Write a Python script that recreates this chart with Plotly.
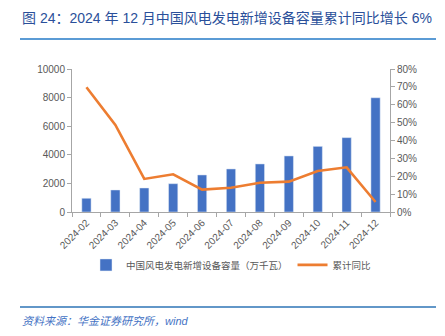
import plotly.graph_objects as go

months = ["2024-02", "2024-03", "2024-04", "2024-05", "2024-06", "2024-07",
          "2024-08", "2024-09", "2024-10", "2024-11", "2024-12"]
capacity = [960, 1540, 1680, 1980, 2590, 3010, 3360, 3920, 4590, 5200, 7990]
yoy = [69.8, 48.7, 18.5, 21.1, 12.5, 13.6, 16.4, 17.0, 22.9, 25.0, 5.6]

bar_name = "中国风电发电新增设备容量（万千瓦）"
line_name = "累计同比"
title_text = "图 24：2024 年 12 月中国风电发电新增设备容量累计同比增长 6%"
source_text = "<i>资料来源：华金证券研究所，wind</i>"

FONT = "Liberation Sans, Noto Sans CJK SC, sans-serif"
GRAY = "#595959"

fig = go.Figure()
fig.add_trace(go.Bar(x=months, y=capacity, name=bar_name, marker_color="#4472c4",
                     width=0.32, yaxis="y"))
fig.add_trace(go.Scatter(x=months, y=yoy, name=line_name, mode="lines",
                         line=dict(color="#ed7d31", width=2.6), yaxis="y2"))

fig.update_layout(
    width=445, height=336,
    margin=dict(l=72, r=55, t=69, b=124),
    paper_bgcolor="white", plot_bgcolor="white",
    font=dict(family=FONT, size=10, color=GRAY),
    showlegend=True,
    legend=dict(orientation="h", x=0.5, xanchor="center", y=-0.37, yanchor="middle",
                font=dict(size=9.5, color=GRAY, family=FONT), itemwidth=30,
                tracegroupgap=0),
    xaxis=dict(type="category", tickangle=-45, showline=True, linecolor="#a6a6a6",
               ticks="outside", ticklen=4, tickcolor="#a6a6a6", tickson="boundaries",
               tickfont=dict(size=10, color=GRAY), showgrid=False),
    yaxis=dict(range=[0, 10000], dtick=2000, tickformat="d", showline=True,
               linecolor="#a6a6a6", ticks="outside", ticklen=4, tickcolor="#a6a6a6",
               showgrid=False, zeroline=False, tickfont=dict(size=10, color=GRAY)),
    yaxis2=dict(range=[0, 80], dtick=10, ticksuffix="%", overlaying="y", side="right",
                showline=True, linecolor="#a6a6a6", ticks="outside", ticklen=4,
                tickcolor="#a6a6a6", showgrid=False, zeroline=False,
                tickfont=dict(size=10, color=GRAY)),
    bargap=0.68,
)

fig.add_annotation(text=title_text, xref="paper", yref="paper",
                   x=(20 - 72) / 318, y=(212 - 18) / 143, xanchor="left", yanchor="middle",
                   showarrow=False, font=dict(size=14, color="#2a4f9a", family=FONT))
fig.add_annotation(text=source_text, xref="paper", yref="paper",
                   x=(20 - 72) / 318, y=(212 - 321) / 143, xanchor="left", yanchor="middle",
                   showarrow=False, font=dict(size=11, color="#4472c4", family=FONT))
fig.add_shape(type="line", xref="paper", yref="paper",
              x0=(20 - 72) / 318, x1=(436 - 72) / 318,
              y0=(212 - 39) / 143, y1=(212 - 39) / 143,
              line=dict(color="#5b9bd5", width=2))
fig.add_shape(type="line", xref="paper", yref="paper",
              x0=(20 - 72) / 318, x1=(436 - 72) / 318,
              y0=(212 - 307) / 143, y1=(212 - 307) / 143,
              line=dict(color="#2e75b6", width=1.5))

fig.write_html("out.html")
